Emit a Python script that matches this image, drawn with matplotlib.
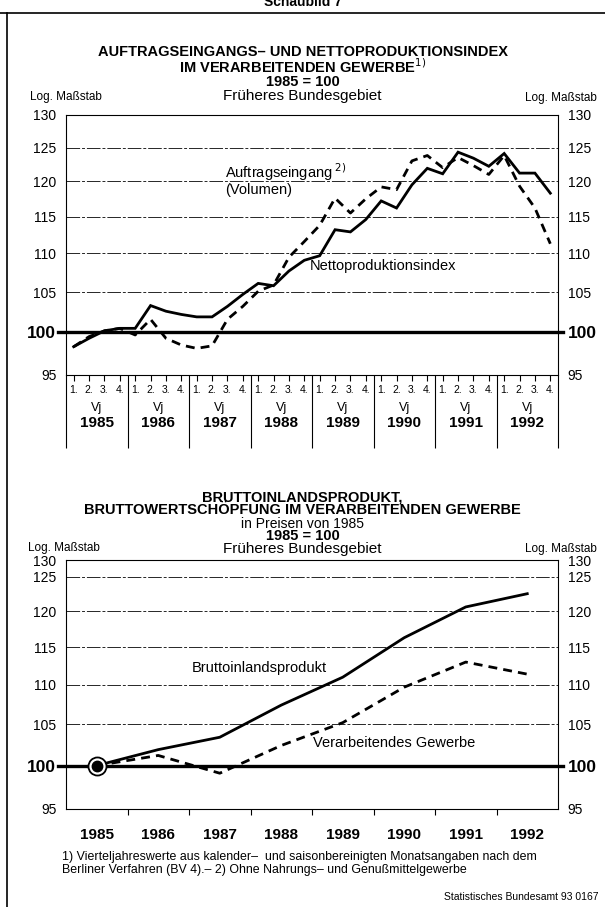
import matplotlib
matplotlib.use("Agg")
import matplotlib.pyplot as plt
import numpy as np
from matplotlib.lines import Line2D

plt.rcParams["font.family"] = ["Liberation Sans", "DejaVu Sans"]

# --- data -------------------------------------------------------------
years = [1985, 1986, 1987, 1988, 1989, 1990, 1991, 1992]
quarter_labels = ["1.", "2.", "3.", "4."]

# quarterly index values, 1985 Q1 ... 1992 Q4
netto = [98.3, 99.3, 100.2, 100.5,
         100.5, 103.3, 102.6, 102.2,
         101.9, 101.9, 103.2, 104.7,
         106.1, 105.8, 107.7, 109.1,
         109.7, 113.2, 112.9, 114.6,
         117.2, 116.2, 119.5, 121.9,
         121.1, 124.3, 123.4, 122.2,
         124.1, 121.2, 121.2, 118.3]
auftrag = [98.3, 99.5, 100.2, 100.5,
           99.7, 101.6, 99.3, 98.5,
           98.1, 98.4, 101.6, 103.2,
           105.1, 105.9, 109.5, 111.6,
           113.8, 117.6, 115.5, 117.5,
           119.2, 118.8, 123.0, 123.8,
           122.0, 123.5, 122.3, 121.0,
           123.8, 119.3, 116.2, 111.3]

# annual values
bip = [100, 101.9, 103.4, 107.4, 111.0, 116.3, 120.6, 122.5]
verarb = [100, 101.2, 99.1, 102.4, 105.2, 109.7, 113.0, 111.4]

yticks = [95, 100, 105, 110, 115, 120, 125, 130]

W, H = 605, 907


def fx(px):
    return px / W


def fy(py):
    return 1 - py / H


fig = plt.figure(figsize=(W / 100, H / 100), dpi=100)

# frame of the page
fig.add_artist(Line2D([0, 1], [fy(13), fy(13)], color="black", lw=1.2))
fig.add_artist(Line2D([fx(7), fx(7)], [fy(13), 0], color="black", lw=1.2))
fig.text(0.5, fy(2), "Schaubild 7", ha="center", va="center", fontsize=10,
         fontweight="bold")


def style_y(ax):
    ax.set_ylim(95, 130)
    ax.set_yticks(yticks)
    ax.set_yticklabels([str(v) for v in yticks])
    ax.yaxis.set_minor_locator(matplotlib.ticker.NullLocator())
    ax.tick_params(axis="y", which="both", length=0, labelsize=10,
                   left=False, right=False, labelleft=True, labelright=True,
                   pad=7)
    for t, v in zip(ax.yaxis.get_major_ticks(), yticks):
        if v == 100:
            for lab in (t.label1, t.label2):
                lab.set_fontweight("bold")
                lab.set_fontsize(12.5)
    ax.grid(axis="y", color="0.15", lw=0.7, ls=(0, (14, 2, 3, 2)))
    ax.axhline(100, xmin=-0.017, xmax=1.011, color="black", lw=2.4,
               clip_on=False, zorder=3)
    for s in ax.spines.values():
        s.set_linewidth(0.8)


# --- top chart ----------------------------------------------------------
ax1 = fig.add_axes([fx(66), fy(375), fx(492), 260 / H])
ax1.set_yscale("log")
style_y(ax1)

xq = [y + (q + 0.5) / 4 for y in years for q in range(4)]
ax1.plot(xq, netto, color="black", lw=2.0, solid_joinstyle="miter", zorder=4)
ax1.plot(xq, auftrag, color="black", lw=2.0, ls=(0, (3.2, 2.2)), zorder=4)

ax1.set_xlim(1985, 1993)
ax1.set_xticks(range(1985, 1994))
ax1.set_xticklabels([])
ax1.set_xticks(xq, minor=True)
ax1.set_xticklabels(quarter_labels * len(years), minor=True)
ax1.tick_params(axis="x", which="major", direction="out", length=52.5,
                width=0.8)
ax1.tick_params(axis="x", which="minor", direction="out", length=4.5,
                width=0.8, labelsize=7.5, pad=3)
for y in years:
    ax1.text(y + 0.5, -0.125, "Vj", transform=ax1.get_xaxis_transform(),
             ha="center", va="center", fontsize=9)
    ax1.text(y + 0.5, -0.185, str(y), transform=ax1.get_xaxis_transform(),
             ha="center", va="center", fontsize=11, fontweight="bold")

ax1.text(1987.59, 121.4, "Auftragseingang$^{\\ 2)}$", fontsize=10.5,
         ha="left", va="center")
ax1.text(1987.59, 118.8, "(Volumen)", fontsize=10.5, ha="left", va="center")
ax1.text(1988.97, 108.3, "Nettoproduktionsindex", fontsize=10.5,
         ha="left", va="center")

fig.text(0.5, fy(52), "AUFTRAGSEINGANGS\u2013 UND NETTOPRODUKTIONSINDEX",
         ha="center", va="center", fontsize=10.5, fontweight="bold")
fig.text(0.5, fy(66.5), "IM VERARBEITENDEN GEWERBE$^{1)}$",
         ha="center", va="center", fontsize=10.5, fontweight="bold")
fig.text(0.5, fy(81.5), "1985 = 100", ha="center", va="center",
         fontsize=10.5, fontweight="bold")
fig.text(0.5, fy(96), "Früheres Bundesgebiet", ha="center", va="center",
         fontsize=11)
fig.text(fx(30), fy(97), "Log. Maßstab", ha="left", va="center",
         fontsize=8.5)
fig.text(fx(597), fy(98), "Log. Maßstab", ha="right", va="center",
         fontsize=8.5)

# --- bottom chart -------------------------------------------------------
# log scale, the 125-130 band is drawn compressed as in the original
LN125 = np.log(125.0)
K = 0.5


def fwd(v):
    l = np.log(np.clip(v, 1e-9, None))
    return np.where(l > LN125, LN125 + (l - LN125) * K, l)


def inv(u):
    u = np.asarray(u, dtype=float)
    return np.exp(np.where(u > LN125, LN125 + (u - LN125) / K, u))


ax2 = fig.add_axes([fx(66), fy(809), fx(492), 249 / H])
ax2.set_yscale("function", functions=(fwd, inv))
style_y(ax2)

xa = [y + 0.5 for y in years]
ax2.plot(xa, bip, color="black", lw=2.0, zorder=4)
ax2.plot(xa, verarb, color="black", lw=2.0, ls=(0, (3.2, 2.2)), zorder=4)
ax2.plot(xa[0], bip[0], "o", ms=13, mfc="white", mec="black", mew=1.3,
         zorder=5)
ax2.plot(xa[0], bip[0], "o", ms=7.5, color="black", zorder=6)

ax2.set_xlim(1985, 1993)
ax2.set_xticks(range(1986, 1993))
ax2.set_xticklabels([])
ax2.set_xticks(xa, minor=True)
ax2.set_xticklabels([str(y) for y in years], minor=True)
ax2.tick_params(axis="x", which="major", direction="out", length=4,
                width=0.8)
ax2.tick_params(axis="x", which="minor", length=0, labelsize=11, pad=14)
for lab in ax2.get_xticklabels(minor=True):
    lab.set_fontweight("bold")

ax2.text(1987.05, 112.2, "Bruttoinlandsprodukt", fontsize=10.5,
         ha="left", va="center")
ax2.text(1989.02, 102.7, "Verarbeitendes Gewerbe", fontsize=10.5,
         ha="left", va="center")

fig.text(0.5, fy(497), "BRUTTOINLANDSPRODUKT,", ha="center", va="center",
         fontsize=10.5, fontweight="bold")
fig.text(0.5, fy(510.5), "BRUTTOWERTSCHÖPFUNG IM VERARBEITENDEN GEWERBE",
         ha="center", va="center", fontsize=10.5, fontweight="bold")
fig.text(0.5, fy(523.5), "in Preisen von 1985", ha="center", va="center",
         fontsize=10)
fig.text(0.5, fy(536), "1985 = 100", ha="center", va="center",
         fontsize=10.5, fontweight="bold")
fig.text(0.5, fy(548.5), "Früheres Bundesgebiet", ha="center", va="center",
         fontsize=11)
fig.text(fx(28), fy(548), "Log. Maßstab", ha="left", va="center",
         fontsize=8.5)
fig.text(fx(597), fy(549), "Log. Maßstab", ha="right", va="center",
         fontsize=8.5)

# --- footnotes ----------------------------------------------------------
fig.text(fx(62), fy(857),
         "1) Vierteljahreswerte aus kalender\u2013  und saisonbereinigten "
         "Monatsangaben nach dem", ha="left", va="center", fontsize=8.9)
fig.text(fx(62), fy(869.5),
         "Berliner Verfahren (BV 4).\u2013 2) Ohne Nahrungs\u2013 und "
         "Genußmittelgewerbe", ha="left", va="center", fontsize=8.9)
fig.text(fx(598), fy(897), "Statistisches Bundesamt 93 0167", ha="right",
         va="center", fontsize=7.5)

fig.savefig("out.png", dpi=100)
plt.close(fig)
